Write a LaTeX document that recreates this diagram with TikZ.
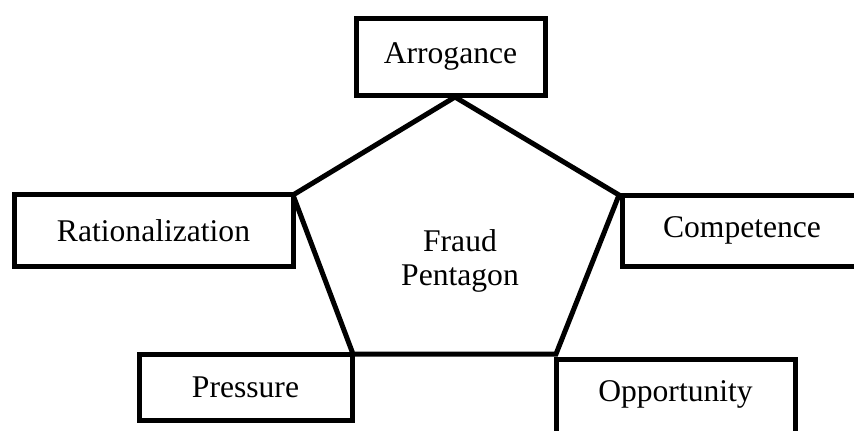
\documentclass[tikz,border=0pt]{standalone}
\usepackage{fontspec}
\setmainfont{Liberation Serif}
\begin{document}
\begin{tikzpicture}[
			x=0.5pt, y=-0.5pt,
			every node/.style={font=\fontsize{15.8}{17}\selectfont},
			factor/.style={draw, rectangle, line width=2.5pt, inner sep=0pt},
			edge/.style={line width=2.5pt, line join=miter}
		]
		\useasboundingbox (0,0) rectangle (854,430);
		\clip (0,0) rectangle (854,430);
		\node[factor, minimum width=94.5pt, minimum height=38.5pt] (arr) at (450.5,56.5) {Arrogance};
		\node[factor, minimum width=139.5pt, minimum height=36pt] (rat) at (153.5,230.5) {Rationalization};
		\node[factor, minimum width=120pt, minimum height=35.5pt] (comp) at (742,230.5) {Competence};
		\node[factor, minimum width=106.5pt, minimum height=33pt] (press) at (245.5,387) {Pressure};
		\node[factor, minimum width=119.5pt, minimum height=39pt, text depth=7pt] (opp) at (675.5,398) {Opportunity};
		% corners of the pentagon
		\coordinate (p1) at (455,97);
		\coordinate (p2) at (619,195);
		\coordinate (p3) at (556,354);
		\coordinate (p4) at (353,354);
		\coordinate (p5) at (293,195);
		\draw[edge] (p1) -- (p2) -- (p3) -- (p4) -- (p5) -- cycle;
		\node[align=center] (fraud) at (460,261) {Fraud\\Pentagon};
	\end{tikzpicture}
\end{document}
